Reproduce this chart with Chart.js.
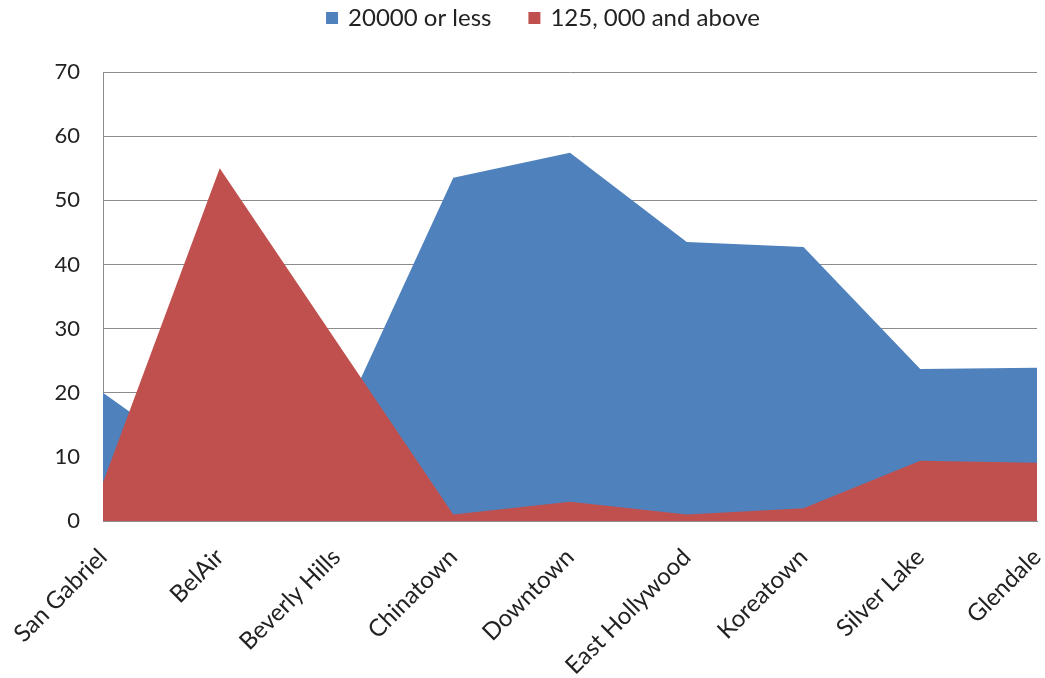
<!DOCTYPE html>
<html>
<head>
<meta charset="utf-8">
<script src="https://cdn.jsdelivr.net/npm/chart.js@4.4.1/dist/chart.umd.min.js"></script>
<style>
  html, body { margin: 0; padding: 0; background: #ffffff; }
  #wrap { width: 1045px; height: 678px; }
</style>
</head>
<body>
<div id="wrap"><canvas id="chart" width="1045" height="678"></canvas></div>
<script>
// Neighbourhoods along the category axis
const neighbourhoods = ['San Gabriel', 'BelAir', 'Beverly Hills', 'Chinatown', 'Downtown',
  'East Hollywood', 'Koreatown', 'Silver Lake', 'Glendale'];

// Share of households (%) by income band
const lowIncome = [20, 7, 14, 53.5, 57.4, 43.5, 42.7, 23.7, 23.9];
const highIncome = [6, 55, 28, 1, 3, 1, 2, 9.4, 9.1];

// Value axis ticks
const yTicks = [0, 10, 20, 30, 40, 50, 60, 70];

const FONT = 'Lato, "Liberation Sans", sans-serif';
const TEXT = '#222222';
const GRID = '#8c8c8c';

// Legend drawn centred above the plot, boxes followed by the series names
const topLegend = {
  id: 'topLegend',
  afterDraw(chart) {
    const ctx = chart.ctx;
    const box = 12, gap = 10, between = 37;
    ctx.save();
    ctx.font = '24px ' + FONT;
    ctx.textBaseline = 'middle';
    const items = chart.data.datasets.map(ds => ({
      text: ds.label, color: ds.backgroundColor, w: ctx.measureText(ds.label).width
    }));
    const total = items.reduce((s, it) => s + box + gap + it.w, 0) + between * (items.length - 1);
    let x = 543 - total / 2;
    const y = 18;
    items.forEach(it => {
      ctx.fillStyle = it.color;
      ctx.fillRect(x, y - box / 2, box, box);
      x += box + gap;
      ctx.fillStyle = TEXT;
      ctx.fillText(it.text, x, y);
      x += it.w + between;
    });
    ctx.restore();
  }
};

new Chart(document.getElementById('chart'), {
  type: 'line',
  data: {
    labels: neighbourhoods,
    datasets: [
      {
        label: '20000 or less',
        data: lowIncome,
        backgroundColor: '#4f81bd',
        borderWidth: 0,
        pointRadius: 0,
        fill: 'origin',
        tension: 0,
        order: 1
      },
      {
        label: '125, 000 and above',
        data: highIncome,
        backgroundColor: '#c0504d',
        borderWidth: 0,
        pointRadius: 0,
        fill: 'origin',
        tension: 0,
        order: 0
      }
    ]
  },
  options: {
    responsive: false,
    animation: false,
    devicePixelRatio: 1,
    layout: { padding: { top: 72, right: 8, left: 0, bottom: 0 } },
    plugins: {
      legend: { display: false },
      tooltip: { enabled: false }
    },
    scales: {
      x: {
        offset: false,
        grid: { display: false },
        border: { display: true, color: GRID, width: 1 },
        ticks: {
          autoSkip: false,
          maxRotation: 45,
          minRotation: 45,
          padding: 14,
          color: TEXT,
          font: { family: FONT, size: 24 }
        },
        afterFit(scale) {
          scale.height = 157;
          scale.paddingLeft = 0;
          scale.paddingRight = 0;
        }
      },
      y: {
        min: 0,
        max: 70,
        afterBuildTicks(scale) { scale.ticks = yTicks.map(v => ({ value: v })); },
        grid: { color: GRID, lineWidth: 1, drawTicks: false },
        border: { display: true, color: GRID, width: 1 },
        ticks: {
          padding: 23,
          color: TEXT,
          font: { family: FONT, size: 22 }
        },
        afterFit(scale) { scale.width = 103; }
      }
    }
  },
  plugins: [topLegend]
});
</script>
</body>
</html>
